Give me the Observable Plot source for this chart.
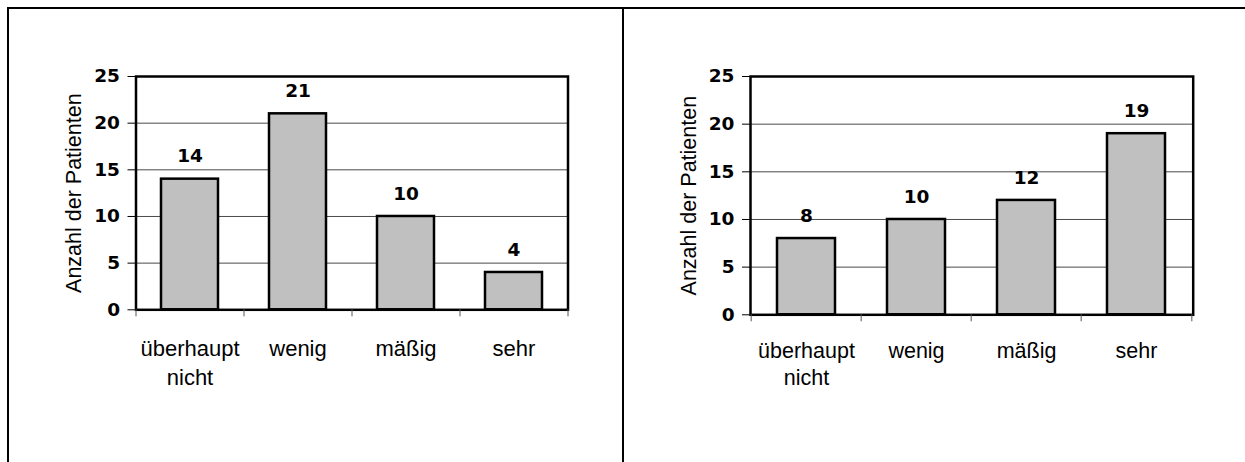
<!DOCTYPE html>
<html><head><meta charset="utf-8">
<script src="https://cdn.jsdelivr.net/npm/d3@7"></script>
<script src="https://cdn.jsdelivr.net/npm/@observablehq/plot@0.6"></script>
<style>
html,body{margin:0;padding:0;background:#fff;width:1245px;height:462px;overflow:hidden;}
#page{position:relative;width:1245px;height:462px;}
.chart{position:absolute;top:0;}
.line{position:absolute;background:#000;}
</style></head><body>
<div id="page">
 <div class="line" style="left:7px;top:6.5px;width:1238px;height:2px"></div>
 <div class="line" style="left:7.3px;top:6.5px;width:2px;height:456px"></div>
 <div class="line" style="left:622px;top:6.5px;width:2px;height:456px"></div>
 <div id="left" class="chart" style="left:0px"></div>
 <div id="right" class="chart" style="left:623px"></div>
</div>
<script>
const categories = ["überhaupt\nnicht", "wenig", "mäßig", "sehr"];
const valuesLeft = [14, 21, 10, 4];
const valuesRight = [8, 10, 12, 19];
const yTicks = [0, 5, 10, 15, 20, 25];
const yLabel = "Anzahl der Patienten";

const numFont = "DejaVu Sans, sans-serif";
const txtFont = "Liberation Sans, Arial, sans-serif";

function chart(values, cfg) {
  const data = categories.map((c, i) => ({cat: c, value: values[i]}));
  const plotW = cfg.width - cfg.ml - cfg.mr;
  const half = plotW / categories.length / 2;
  return Plot.plot({
    width: cfg.width, height: 462,
    marginLeft: cfg.ml, marginRight: cfg.mr, marginTop: cfg.mt, marginBottom: cfg.mb,
    style: {background: "none", color: "#000", overflow: "visible"},
    x: {domain: categories, paddingInner: 0.47, paddingOuter: 0.235, label: null},
    y: {domain: [0, 25], label: null},
    marks: [
      Plot.gridY(yTicks.slice(1, -1), {stroke: "#4a4a4a", strokeOpacity: 1, strokeWidth: 1}),
      Plot.barY(data, {x: "cat", y: "value", fill: "#c0c0c0", stroke: "#000", strokeWidth: 2.5}),
      Plot.frame({stroke: "#000", strokeWidth: 2.5}),
      Plot.axisY(yTicks, {tickSize: 8, tickPadding: 8, stroke: "#000", fill: "#000", fontFamily: numFont, fontWeight: "bold", fontSize: cfg.numFont, label: null}),
      Plot.axisX(categories, {tickSize: 7, dx: -half, fill: "none", stroke: "#555", label: null}),
      Plot.axisX([categories[categories.length - 1]], {tickSize: 7, dx: half, fill: "none", stroke: "#555", label: null}),
      Plot.axisX(categories, {tickSize: 0, tickPadding: cfg.xPad, fill: "#000", fontFamily: txtFont, fontSize: cfg.xFont, lineHeight: cfg.lh, label: null, tickFormat: d => d}),
      Plot.text([yLabel], {text: d => d, frameAnchor: "left", textAnchor: "middle", rotate: -90, dx: cfg.labDx, fill: "#000", fontFamily: txtFont, fontSize: 21.5}),
      Plot.text(data, {x: "cat", y: "value", text: d => String(d.value), lineAnchor: "bottom", dy: -16.7, fill: "#000", fontFamily: numFont, fontWeight: "bold", fontSize: cfg.numFont})
    ]
  });
}

document.getElementById("left").append(chart(valuesLeft, {
  width: 622, ml: 135.5, mr: 54.5, mt: 76, mb: 152.7,
  xPad: 25.4, xFont: 22, lh: 1.33, labDx: -62, numFont: 18.5
}));
document.getElementById("right").append(chart(valuesRight, {
  width: 622, ml: 127, mr: 52.3, mt: 76, mb: 147.7,
  xPad: 23.7, xFont: 21.5, lh: 1.27, labDx: -61.7, numFont: 18.5
}));
</script>
</body></html>
